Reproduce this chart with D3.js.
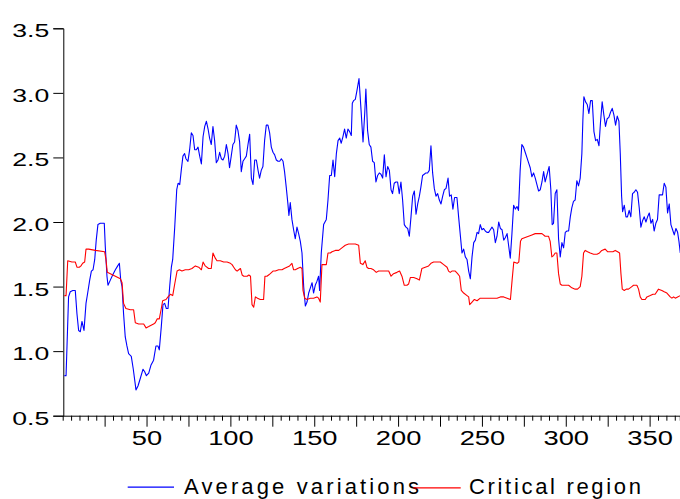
<!DOCTYPE html>
<html>
<head>
<meta charset="utf-8">
<script src="https://cdn.jsdelivr.net/npm/d3@7/dist/d3.min.js"></script>
<style>
  html, body { margin: 0; padding: 0; background: #fff; }
  svg { display: block; }
</style>
</head>
<body>
<svg id="chart" width="680" height="499"></svg>
<script>
// Observation index (day) and value pairs for each series
const averageVariations = [
  [1,0.81],[2,0.81],[3.5,1.42],[4.5,1.46],[6,1.47],[7.5,1.47],[8.5,1.29],[9.5,1.16],[10.5,1.15],[11.5,1.23],
  [12.7,1.16],[13.9,1.37],[14.9,1.45],[16.1,1.55],[17.1,1.62],[18.1,1.63],[19.1,1.71],[20,1.86],[21,1.98],[22.4,1.99],
  [24.8,1.99],[25.4,1.81],[26.4,1.58],[27,1.51],[28.4,1.55],[29.8,1.59],[31.4,1.63],[32.8,1.66],[33.8,1.68],[34.6,1.55],
  [35.4,1.50],[36.3,1.29],[37.3,1.11],[38.3,1.04],[39.3,0.98],[40.9,0.96],[42.1,0.86],[43.7,0.70],[44.9,0.73],[46.3,0.79],
  [47.9,0.86],[48.9,0.84],[49.9,0.81],[51.3,0.83],[52.6,0.89],[54.2,0.93],[55.6,1.04],[56.8,1.04],[57.6,1.01],[58.8,1.19],
  [59.8,1.36],[60.8,1.37],[61.8,1.33],[62.8,1.33],[63.8,1.50],[64.8,1.65],[65.6,1.71],[66.8,1.96],[68,2.25],[68.8,2.30],
  [69.8,2.29],[70.7,2.40],[71.7,2.51],[72.7,2.53],[73.5,2.49],[74.7,2.47],[75.7,2.56],[76.7,2.69],[77.7,2.67],[78.7,2.56],
  [79.7,2.56],[80.7,2.58],[81.7,2.51],[82.7,2.45],[83.7,2.66],[84.7,2.74],[85.7,2.78],[86.7,2.72],[87.6,2.65],[88.6,2.60],
  [89.6,2.74],[90.6,2.63],[91.6,2.46],[92.6,2.48],[93.6,2.54],[94.6,2.49],[95.6,2.48],[96.6,2.51],[97.6,2.60],[98.6,2.53],
  [99.5,2.42],[100.5,2.51],[101.5,2.60],[102.5,2.62],[103.5,2.75],[104.5,2.71],[105.5,2.62],[106.5,2.39],[107.5,2.47],[108.5,2.49],
  [109.5,2.51],[110.5,2.60],[111.5,2.68],[112.5,2.34],[113.5,2.29],[114.5,2.48],[115.5,2.48],[116.5,2.40],[117.4,2.34],[118.4,2.40],
  [119.4,2.43],[120.4,2.63],[121.4,2.75],[122.4,2.75],[123.4,2.69],[124.4,2.58],[125.4,2.54],[126.4,2.52],[127.4,2.48],[128.4,2.47],
  [129.4,2.47],[130.4,2.49],[131.4,2.47],[132.3,2.39],[133.3,2.27],[134.3,2.14],[134.9,2.05],[135.7,2.15],[136.7,2.02],[137.7,1.94],
  [138.7,1.87],[139.7,1.96],[140.7,1.91],[141.7,1.85],[142.7,1.76],[143.7,1.50],[144.7,1.35],[145.7,1.38],[146.7,1.45],[147.7,1.49],
  [148.7,1.53],[149.6,1.45],[150.6,1.51],[151.6,1.54],[152.6,1.58],[153.2,1.47],[154.2,1.76],[155.6,1.98],[157.2,2.02],[158.2,2.17],
  [159.2,2.36],[160.2,2.36],[161.2,2.48],[162.2,2.35],[163.2,2.53],[164.2,2.63],[165.2,2.65],[166.1,2.61],[167.1,2.66],[168.1,2.72],
  [169.1,2.65],[170.1,2.72],[171.1,2.70],[172.1,2.67],[172.7,2.92],[173.5,2.94],[174.5,2.95],[175.5,3.02],[176.7,3.11],[177.9,2.87],
  [179.1,2.62],[180.1,2.84],[180.8,3.03],[181.8,2.71],[182.8,2.60],[183.8,2.58],[184.8,2.47],[185.8,2.46],[186.8,2.31],[187.8,2.36],
  [188.8,2.38],[189.8,2.37],[190.8,2.34],[191.8,2.52],[192.8,2.35],[193.8,2.43],[194.8,2.40],[195.8,2.25],[196.7,2.22],[197.7,2.30],
  [198.7,2.31],[199.7,2.31],[200.7,2.22],[201.7,2.31],[202.7,2.17],[203.7,1.98],[204.7,1.96],[205.7,1.95],[206.7,1.89],[207.7,2.04],
  [208.7,2.20],[209.7,2.24],[210.7,2.06],[211.7,2.14],[212.7,2.20],[213.6,2.27],[214.6,2.36],[215.6,2.37],[216.6,2.38],[217.6,2.38],
  [218.6,2.40],[219.6,2.59],[220.6,2.38],[221.6,2.26],[222.6,2.20],[223.6,2.22],[224.6,2.17],[225.6,2.14],[226.6,2.20],[227.6,2.25],
  [228.6,2.26],[229.8,2.34],[230.7,2.20],[231.7,2.21],[232.7,2.10],[233.7,2.19],[235.1,2.19],[236.1,2.04],[237.1,1.90],[238.1,1.76],
  [239.1,1.79],[240.1,1.73],[241.1,1.71],[242.1,1.62],[243.1,1.56],[244.1,1.73],[245.1,1.84],[246.1,1.86],[247.1,1.92],[248,1.91],
  [249,1.98],[250,1.94],[251,1.95],[252,1.93],[253,1.92],[254,1.92],[255,1.94],[256,1.96],[257,1.94],[258,1.84],
  [259,1.89],[260,2.00],[261,1.95],[262,1.94],[263,1.86],[264,1.88],[265,1.91],[266,1.81],[266.9,1.72],[267.9,1.91],
  [268.9,2.13],[269.9,2.10],[270.9,2.12],[271.8,2.09],[272.8,2.40],[273.8,2.60],[274.8,2.58],[275.8,2.54],[276.8,2.50],[277.8,2.46],
  [278.8,2.42],[279.8,2.35],[280.8,2.38],[281.8,2.34],[282.8,2.29],[283.8,2.24],[284.8,2.25],[285.8,2.31],[286.8,2.39],[287.7,2.31],
  [288.7,2.36],[290.1,2.43],[291.1,2.25],[291.9,1.98],[292.7,1.99],[293.7,2.22],[294.7,2.25],[295.7,1.87],[296.7,1.73],[297.7,1.84],
  [298.7,1.80],[299.7,1.92],[300.7,1.93],[301.7,1.93],[302.7,2.04],[303.6,2.11],[304.6,2.16],[305.6,2.17],[306.6,2.32],[307.6,2.28],
  [308.6,2.34],[309.6,2.53],[310.2,2.79],[310.8,2.97],[311.8,2.93],[312.8,2.91],[313.8,2.84],[314.8,2.94],[315.8,2.94],[316.8,2.70],
  [317.8,2.63],[318.8,2.64],[319.8,2.59],[320.7,2.77],[321.7,2.93],[322.7,2.83],[323.7,2.74],[324.7,2.80],[325.7,2.81],[326.7,2.85],
  [327.7,2.88],[328.7,2.83],[329.7,2.75],[330.7,2.82],[331.7,2.78],[332.5,2.53],[333.3,2.20],[333.9,2.08],[334.9,2.13],[335.9,2.04],
  [336.8,2.04],[337.8,2.09],[338.8,2.04],[339.8,2.22],[340.8,2.23],[341.8,2.25],[342.8,2.23],[343.8,2.11],[344.8,1.96],[345.8,2.01],
  [346.8,2.04],[347.8,2.00],[348.8,2.04],[349.8,2.07],[350.8,1.99],[351.8,2.02],[352.7,1.93],[353.7,1.99],[354.7,2.02],[355.7,2.21],
  [356.7,2.21],[357.7,2.21],[358.7,2.30],[359.7,2.27],[360.7,2.07],[361.7,2.14],[362.7,1.98],[363.7,1.94],[364.7,1.90],[365.7,1.95],
  [366.7,1.92],[367.5,1.85],[368.3,1.76]
];

const criticalRegion = [
  [1,1.43],[2,1.43],[3,1.70],[5.5,1.69],[7.5,1.69],[8.5,1.65],[9.9,1.65],[10.9,1.66],[11.9,1.68],[13.1,1.69],
  [13.9,1.79],[15.5,1.79],[19.5,1.78],[25,1.77],[25.8,1.71],[26.6,1.61],[28.4,1.60],[31.4,1.58],[34.4,1.56],[35.4,1.53],
  [36.3,1.37],[37.7,1.33],[40.3,1.32],[42.3,1.32],[43.3,1.22],[45.3,1.21],[48.3,1.21],[49.7,1.18],[51.3,1.19],[54.2,1.21],
  [55.2,1.22],[56.4,1.25],[57.6,1.25],[58.8,1.33],[59.6,1.39],[61.6,1.40],[62.8,1.42],[64.2,1.44],[65.6,1.43],[66.8,1.52],
  [68.2,1.62],[69.6,1.63],[71.1,1.62],[73.1,1.63],[75.1,1.63],[77.1,1.64],[79.1,1.66],[81.1,1.65],[82.7,1.63],[83.7,1.69],
  [85,1.66],[87,1.64],[88.6,1.64],[89.6,1.76],[91,1.72],[92,1.70],[94,1.70],[96,1.69],[98,1.69],[100,1.68],
  [101,1.67],[102,1.65],[103,1.63],[104,1.62],[105,1.63],[106,1.64],[107,1.59],[108,1.58],[110,1.58],[111,1.59],
  [112,1.58],[112.9,1.36],[113.9,1.34],[114.9,1.42],[116.2,1.41],[117.8,1.40],[119.8,1.40],[120.6,1.58],[121.8,1.58],[122.8,1.59],
  [123.8,1.60],[125.4,1.62],[126.8,1.62],[128.8,1.63],[130.8,1.63],[132.1,1.64],[133.7,1.65],[135.3,1.66],[136.7,1.68],[137.7,1.63],
  [138.7,1.63],[140.1,1.64],[141.7,1.65],[142.7,1.64],[143.3,1.47],[144.3,1.41],[145.7,1.40],[147.7,1.41],[149.6,1.41],[151.6,1.42],
  [152.6,1.41],[153.6,1.38],[154.6,1.67],[155.6,1.67],[157.2,1.67],[158.2,1.76],[159.6,1.76],[160.6,1.77],[162.6,1.78],[164.6,1.78],
  [166.5,1.80],[168.5,1.82],[170.5,1.83],[172.5,1.83],[174.5,1.83],[176.5,1.82],[177.5,1.68],[179,1.67],[180.4,1.70],[181.4,1.65],
  [182.4,1.64],[183.8,1.64],[185.4,1.63],[187,1.61],[188.4,1.62],[190.4,1.62],[192.4,1.62],[194.4,1.62],[195.8,1.58],[197.3,1.60],
  [199.3,1.61],[200.9,1.62],[202.3,1.58],[203.7,1.51],[205.3,1.51],[206.3,1.52],[207.3,1.57],[209.3,1.57],[211.3,1.56],[212.7,1.55],
  [214.2,1.64],[216.2,1.65],[218.2,1.66],[219.6,1.68],[221.2,1.69],[223.2,1.69],[225.2,1.69],[227.2,1.67],[229.2,1.65],[230.1,1.62],
  [231.1,1.61],[232.1,1.62],[234.1,1.62],[235.5,1.60],[236.7,1.58],[237.7,1.47],[239.1,1.45],[241.1,1.43],[242.1,1.42],[242.7,1.36],
  [244.1,1.38],[245.5,1.40],[247.1,1.39],[249,1.41],[251,1.41],[253,1.41],[255,1.41],[257,1.41],[259,1.41],[261,1.42],
  [263,1.42],[265,1.41],[267,1.40],[268,1.55],[269,1.69],[271,1.68],[272,1.69],[273,1.85],[273.8,1.87],[275.8,1.88],
  [277.8,1.89],[279.8,1.90],[281.8,1.91],[283.8,1.91],[285.8,1.91],[287.7,1.89],[289.7,1.89],[290.7,1.85],[291.7,1.73],[292.7,1.74],
  [293.7,1.76],[294.7,1.76],[295.7,1.60],[296.7,1.52],[297.7,1.51],[299.7,1.51],[301.7,1.51],[303.6,1.49],[305.6,1.48],[307,1.48],
  [308.6,1.50],[309.6,1.58],[310.6,1.76],[311.6,1.78],[313,1.77],[314.6,1.76],[316.6,1.75],[318.6,1.75],[320.1,1.76],[321.5,1.78],
  [323.5,1.79],[324.9,1.77],[326.5,1.77],[328.1,1.77],[329.5,1.78],[330.9,1.77],[332.1,1.76],[332.9,1.60],[333.7,1.48],[334.9,1.47],
  [336.1,1.48],[337.4,1.48],[339.4,1.50],[340.4,1.51],[342.4,1.51],[343.4,1.48],[344.4,1.42],[345.4,1.40],[347.4,1.40],[348.4,1.42],
  [350.4,1.43],[352,1.44],[353.3,1.44],[355.3,1.48],[357.3,1.47],[358.7,1.46],[360.3,1.45],[362.3,1.42],[363.3,1.41],[364.3,1.42],
  [365.3,1.41],[366.7,1.42],[368.3,1.43]
];

const yTicks = [0.5, 1.0, 1.5, 2.0, 2.5, 3.0, 3.5];
const xLabelTicks = [50, 100, 150, 200, 250, 300, 350];
const seriesNames = ["Average variations", "Critical region"];
const seriesColors = ["#0000ff", "#ff0000"];

const svg = d3.select("#chart");
const FONT = "'Liberation Sans', Arial, Helvetica, sans-serif";
const STRETCH = 1.4;   // tick labels use a horizontally widened face

const x = d3.scaleLinear().domain([0, 368]).range([62.7, 679.8]);
const y = d3.scaleLinear().domain([0.5, 3.5]).range([415.7, 28.3]);

// Minor ticks every 5 observations, longer ticks every 25, labels every 50
const xTickVals = d3.range(5, 368, 5);

const xAxis = svg.append("g")
  .attr("transform", `translate(0,${y(0.5)})`)
  .call(d3.axisBottom(x).tickValues(xTickVals).tickSizeOuter(0).tickSize(5)
    .tickFormat(d => xLabelTicks.includes(d) ? String(d) : ""));
xAxis.select(".domain").attr("stroke", "#000").attr("stroke-width", 1);
xAxis.selectAll(".tick line")
  .attr("stroke", "#000")
  .attr("y2", d => d % 25 === 0 ? 11 : 5);
xAxis.selectAll(".tick text")
  .attr("x", 0).attr("y", 29.5).attr("dy", null)
  .attr("transform", `scale(${STRETCH},1)`)
  .attr("font-family", FONT).attr("font-size", 19.5).attr("fill", "#000")
  .attr("text-anchor", "middle");

const yAxis = svg.append("g")
  .attr("transform", `translate(${x(0) + 0.6},0)`)
  .call(d3.axisLeft(y).tickValues(yTicks).tickSizeOuter(0).tickSize(10).tickPadding(4)
    .tickFormat(d3.format(".1f")));
yAxis.select(".domain").attr("stroke", "#000").attr("stroke-width", 1);
yAxis.selectAll(".tick line").attr("stroke", "#000");
yAxis.selectAll(".tick text")
  .attr("x", -14 / STRETCH).attr("dy", null).attr("y", 8.5)
  .attr("transform", `scale(${STRETCH},1)`)
  .attr("font-family", FONT).attr("font-size", 19).attr("fill", "#000")
  .attr("text-anchor", "end");

const line = d3.line().x(d => x(d[0])).y(d => y(d[1]));

[averageVariations, criticalRegion].forEach((data, i) => {
  svg.append("path")
    .datum(data)
    .attr("fill", "none")
    .attr("stroke", seriesColors[i])
    .attr("stroke-width", 1.1)
    .attr("stroke-linejoin", "round")
    .attr("d", line);
});

// Legend
const legendItems = [
  { x1: 127.7, x2: 174, ly: 487.2, tx: 184, len: 235 },
  { x1: 413.3, x2: 460.7, ly: 487.8, tx: 469, len: 172 }
];
legendItems.forEach((item, i) => {
  svg.append("line")
    .attr("x1", item.x1).attr("x2", item.x2)
    .attr("y1", item.ly).attr("y2", item.ly)
    .attr("stroke", seriesColors[i]).attr("stroke-width", 1.2);
  svg.append("text")
    .attr("x", item.tx).attr("y", 494.2)
    .attr("font-family", FONT).attr("font-size", 22).attr("fill", "#000")
    .attr("textLength", item.len).attr("lengthAdjust", "spacing")
    .text(seriesNames[i]);
});
</script>
</body>
</html>
